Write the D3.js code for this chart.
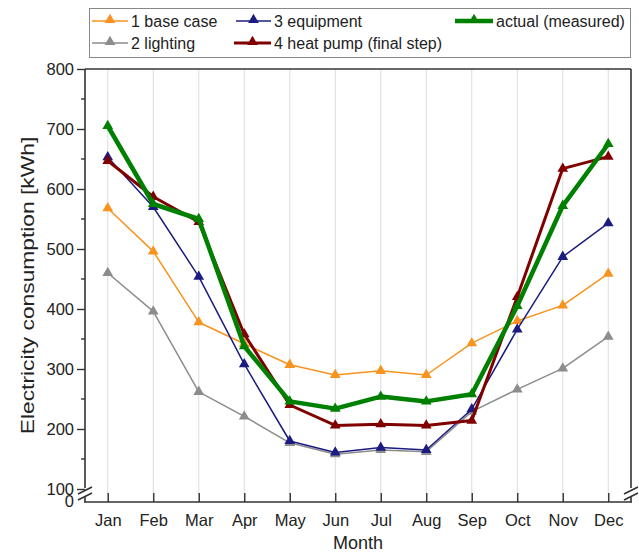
<!DOCTYPE html>
<html>
<head>
<meta charset="utf-8">
<script src="https://d3js.org/d3.v7.min.js"></script>
<style>
body { margin: 0; background: #fff; }
svg text { font-family: "Liberation Sans", Arial, sans-serif; fill: #222; }
</style>
</head>
<body>
<div id="chart"></div>
<script>
// data
var months = ["Jan","Feb","Mar","Apr","May","Jun","Jul","Aug","Sep","Oct","Nov","Dec"];
var baseCase  = [568, 496, 378, 342, 307, 290, 297, 290, 343, 380, 406, 459];
var lighting  = [460, 396, 262, 221, 177, 158, 165, 162, 229, 266, 301, 354];
var equipment = [653, 570, 454, 308, 180, 161, 169, 165, 233, 366, 487, 543];
var heatPump  = [647, 587, 545, 358, 240, 206, 208, 206, 214, 420, 634, 654];
var actual    = [705, 575, 550, 338, 246, 234, 254, 246, 258, 405, 572, 675];
var yTicks = [100, 200, 300, 400, 500, 600, 700, 800];

var series = [
  {name: "1 base case", values: baseCase, color: "#f7931e", w: 1.5},
  {name: "2 lighting", values: lighting, color: "#8c8c8c", w: 1.5},
  {name: "3 equipment", values: equipment, color: "#1c1c80", w: 1.5},
  {name: "4 heat pump (final step)", values: heatPump, color: "#800000", w: 3},
  {name: "actual (measured)", values: actual, color: "#008000", w: 4.5}
];

var W = 639, H = 553;
var pL = 85, pR = 631, pT = 69, pB = 502;

var svg = d3.select("#chart").append("svg")
  .attr("width", W).attr("height", H);

var x = d3.scalePoint().domain(months).range([pL, pR]).padding(0.5);
var y = d3.scaleLinear().domain([100, 800]).range([489, pT]);

// vertical grid
svg.append("g").selectAll("line")
  .data(months).enter().append("line")
  .attr("x1", d => x(d)).attr("x2", d => x(d))
  .attr("y1", pT).attr("y2", pB)
  .attr("stroke", "#dcdcdc").attr("stroke-width", 1);

// frame
var frame = svg.append("g").attr("stroke", "#333").attr("stroke-width", 1.6).attr("fill", "none");
frame.append("line").attr("x1", pL).attr("x2", pR).attr("y1", pT).attr("y2", pT);
frame.append("line").attr("x1", pL).attr("x2", pL).attr("y1", pT).attr("y2", 488);
frame.append("line").attr("x1", pR).attr("x2", pR).attr("y1", pT).attr("y2", 488);
frame.append("line").attr("x1", pL - 1).attr("x2", pR + 1).attr("y1", pB).attr("y2", pB);
frame.append("line").attr("x1", pL).attr("x2", pL).attr("y1", 497).attr("y2", pB);
frame.append("line").attr("x1", pR).attr("x2", pR).attr("y1", 497).attr("y2", pB);
// axis break marks
[pL, pR].forEach(function(cx) {
  frame.append("line").attr("x1", cx - 7).attr("x2", cx + 7).attr("y1", 494).attr("y2", 487);
  frame.append("line").attr("x1", cx - 7).attr("x2", cx + 7).attr("y1", 500).attr("y2", 493);
});

// y axis
var yAxis = d3.axisLeft(y).tickValues(yTicks).tickSize(8).tickPadding(3);
var gy = svg.append("g").attr("transform", "translate(" + pL + ",0)").call(yAxis);
gy.select(".domain").remove();
gy.selectAll(".tick line").attr("stroke", "#333").attr("stroke-width", 1.4);
gy.selectAll(".tick text").style("font-size", "16.5px").attr("fill", "#222");
// minor ticks
svg.append("g").selectAll("line")
  .data(d3.range(150, 800, 100)).enter().append("line")
  .attr("x1", pL - 4).attr("x2", pL)
  .attr("y1", d => y(d)).attr("y2", d => y(d))
  .attr("stroke", "#333").attr("stroke-width", 1.4);
// zero label below the break
svg.append("text").attr("x", pL - 11).attr("y", pB + 5)
  .attr("text-anchor", "end").style("font-size", "16.5px").text("0");

// x axis
var xAxis = d3.axisBottom(x).tickSize(-9).tickPadding(12);
var gx = svg.append("g").attr("transform", "translate(0," + pB + ")").call(xAxis);
gx.select(".domain").remove();
gx.selectAll(".tick line").attr("stroke", "#333").attr("stroke-width", 1.4);
gx.selectAll(".tick text").style("font-size", "16.5px").attr("fill", "#222");

// axis titles
svg.append("text").attr("x", (pL + pR) / 2).attr("y", 549)
  .attr("text-anchor", "middle").style("font-size", "18px").text("Month");
svg.append("text").attr("transform", "translate(34," + ((pT + pB) / 2) + ") rotate(-90) scale(1.2,1)")
  .attr("text-anchor", "middle").style("font-size", "19px").text("Electricity consumption [kWh]");

// series
var line = d3.line().x((d, i) => x(months[i])).y(d => y(d));
var tri = d3.symbol().type(d3.symbolTriangle).size(50);

series.forEach(function(s) {
  var g = svg.append("g");
  g.append("path").datum(s.values)
    .attr("d", line).attr("fill", "none")
    .attr("stroke", s.color).attr("stroke-width", s.w).attr("stroke-linejoin", "round");
  g.selectAll("path.pt").data(s.values).enter().append("path")
    .attr("class", "pt")
    .attr("transform", (d, i) => "translate(" + x(months[i]) + "," + y(d) + ")")
    .attr("d", tri).attr("fill", s.color);
});

// legend
var lg = svg.append("g");
lg.append("rect").attr("x", 89.5).attr("y", 8.5).attr("width", 541).attr("height", 49)
  .attr("fill", "#fff").attr("stroke", "#888").attr("stroke-width", 1);
var legendPos = [
  {x: 92, y: 21}, {x: 92, y: 43}, {x: 236, y: 21}, {x: 234, y: 43}, {x: 455, y: 21}
];
var legendLen = [36, 36, 35, 37, 38];
series.forEach(function(s, i) {
  var p = legendPos[i];
  lg.append("line").attr("x1", p.x).attr("x2", p.x + legendLen[i])
    .attr("y1", p.y).attr("y2", p.y)
    .attr("stroke", s.color).attr("stroke-width", s.w);
  lg.append("path").attr("transform", "translate(" + (p.x + legendLen[i] / 2) + "," + (p.y - 1) + ")")
    .attr("d", tri).attr("fill", s.color);
  lg.append("text").attr("x", p.x + legendLen[i] + 3).attr("y", p.y + 6)
    .style("font-size", "16px").text(s.name);
});
</script>
</body>
</html>
